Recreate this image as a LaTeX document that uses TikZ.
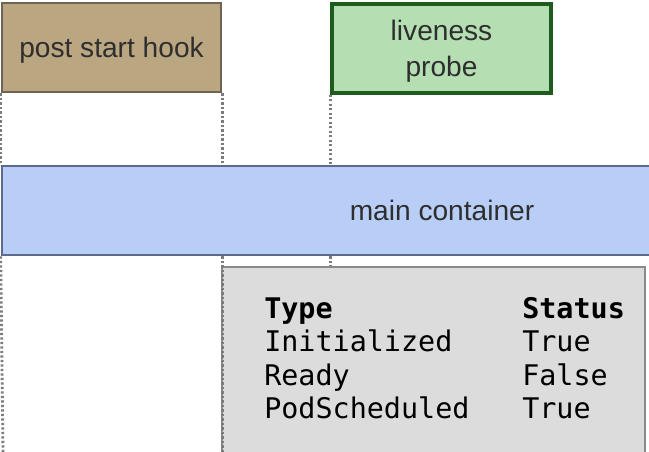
\documentclass[tikz,border=0pt]{standalone}
\usepackage{fontspec}
\setmainfont{Liberation Sans}
\setmonofont{DejaVu Sans Mono}
\usetikzlibrary{positioning}

\definecolor{hookfill}{HTML}{BBA682}
\definecolor{hookdraw}{HTML}{6F6454}
\definecolor{probefill}{HTML}{B5DFB3}
\definecolor{probedraw}{HTML}{1E5C1E}
\definecolor{mainfill}{HTML}{B9CEF6}
\definecolor{maindraw}{HTML}{5C6A8E}
\definecolor{tablefill}{HTML}{DCDCDD}
\definecolor{tabledraw}{HTML}{8A8A8A}
\definecolor{labeltext}{HTML}{2E2E2E}
\definecolor{guide}{HTML}{7C7C7C}

\tikzset{
  phase/.style={rectangle, line width=1.8pt, inner sep=0pt, align=center, text depth=0pt,
    text=labeltext, font=\fontsize{20}{25.5}\selectfont},
  guideline/.style={draw=guide, line width=2pt, dash pattern=on 1.6pt off 1.6pt},
  cell/.style={anchor=base west, inner sep=0pt, font=\ttfamily\fontsize{20.2}{24}\selectfont}
}

\begin{document}
\begin{tikzpicture}[x=0.025cm, y=-0.025cm]
        \clip (0,0) rectangle (649,452);
        \fill[white] (0,0) rectangle (649,452);
        % boxes
        \node[phase, fill=hookfill, draw=hookdraw, minimum width=5.475cm, minimum height=2.225cm] (hook) at (111.5,47.5) {post start hook};
        \node[phase, fill=probefill, draw=probedraw, line width=2.4pt, minimum width=5.475cm, minimum height=2.225cm] (probe) at (441.5,48.5) {liveness\\probe};
        \node[phase, fill=mainfill, draw=maindraw, minimum width=22cm, minimum height=2.225cm] (main) at (442,210.5) {main container};
        \node[phase, fill=tablefill, draw=tabledraw, minimum width=10.575cm, minimum height=5.2cm] (table) at (433.5,371) {};
        % guides
        \coordinate (bottom) at (3,452);
        \draw[guideline] (hook.south west) -- (hook.south west |- main.north);
        \draw[guideline] (hook.south west |- main.south) -- (bottom);
        \draw[guideline] (hook.south east) -- (hook.south east |- main.north);
        \draw[guideline] (hook.south east |- main.south) -- (hook.south east |- table.south);
        \draw[guideline] (probe.south west) -- (probe.south west |- main.north);
        \draw[guideline] (probe.south west |- main.south) -- (probe.south west |- table.north);
        % conditions
        \node[cell, font=\ttfamily\bfseries\fontsize{20.2}{24}\selectfont] (type) at (264,318) {Type};
        \node[cell] (init) at (264,351) {Initialized};
        \node[cell] (ready) at (264,385) {Ready};
        \node[cell] (sched) at (264,418) {PodScheduled};
        \node[cell, font=\ttfamily\bfseries\fontsize{20.2}{24}\selectfont] (status) at (522,318) {Status};
        \node[cell] (inittrue) at (522,351) {True};
        \node[cell] (readyfalse) at (522,385) {False};
        \node[cell] (schedtrue) at (522,418) {True};
\end{tikzpicture}
\end{document}
